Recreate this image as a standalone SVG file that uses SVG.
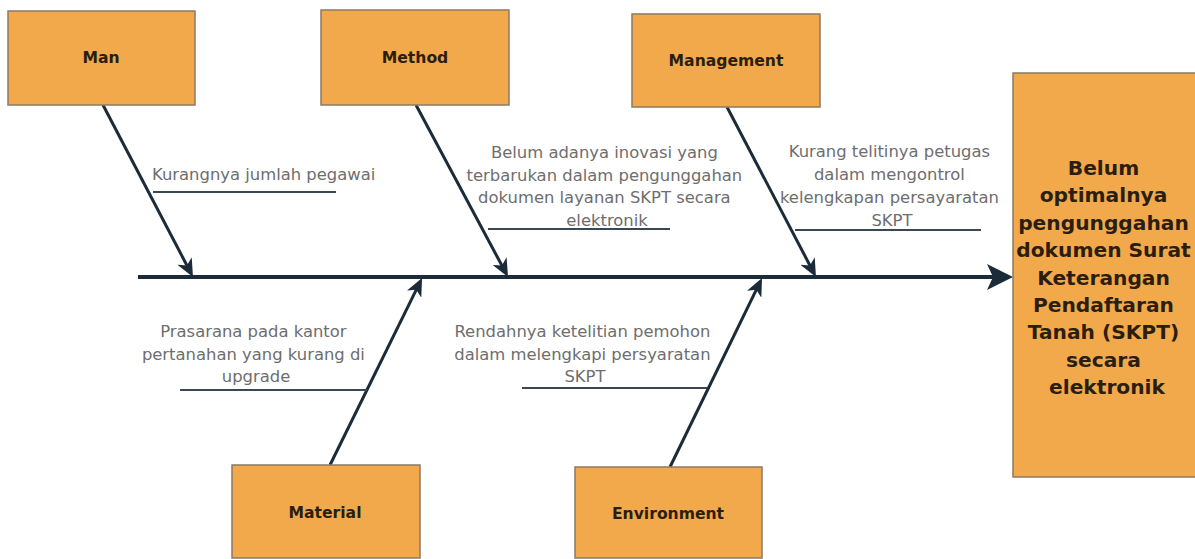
<svg xmlns="http://www.w3.org/2000/svg" width="1195" height="559" viewBox="0 0 1195 559">
  <style>
    .box { fill: #F2A94B; stroke: #8C7A66; stroke-width: 1.5; }
    .lbl { font-family: "DejaVu Sans", sans-serif; font-weight: bold; font-size: 15.6px; fill: #2B1E0F; text-anchor: middle; }
    .eff { font-family: "DejaVu Sans", sans-serif; font-weight: bold; font-size: 20.2px; fill: #2B1E0F; text-anchor: middle; }
    .cause { font-family: "DejaVu Sans", sans-serif; font-size: 16.4px; fill: #6E6E6E; text-anchor: middle; }
    .bone { stroke: #1C2B3A; stroke-width: 3; fill: none; }
    .spine { stroke: #1C2B3A; stroke-width: 4; fill: none; }
    .sub { stroke: #3A4856; stroke-width: 2; fill: none; }
  </style>
  <defs>
    <marker id="ah" markerUnits="userSpaceOnUse" markerWidth="18" markerHeight="16" refX="12" refY="8" orient="auto">
      <path d="M0,0 L18,8 L0,16 L5,8 Z" fill="#1C2B3A"/>
    </marker>
    <marker id="ahBig" markerUnits="userSpaceOnUse" markerWidth="26" markerHeight="26" refX="20" refY="13" orient="auto">
      <path d="M0,0 L26,13 L0,26 L6,13 Z" fill="#1C2B3A"/>
    </marker>
  </defs>

  <rect width="1195" height="559" fill="#FFFFFF"/>

  <g id="connectors">
    <line class="spine" x1="138" y1="277" x2="1007" y2="277" marker-end="url(#ahBig)"/>
    <line class="bone" x1="103" y1="105" x2="190.2" y2="271.7" marker-end="url(#ah)"/>
    <line class="bone" x1="416" y1="105" x2="505.2" y2="271.7" marker-end="url(#ah)"/>
    <line class="bone" x1="727" y1="107" x2="813.2" y2="271.7" marker-end="url(#ah)"/>
    <line class="bone" x1="330" y1="465" x2="419.4" y2="283.4" marker-end="url(#ah)"/>
    <line class="bone" x1="670" y1="467" x2="759.4" y2="283.4" marker-end="url(#ah)"/>
    <line class="sub" x1="153" y1="192" x2="336" y2="192"/>
    <line class="sub" x1="488" y1="229" x2="670" y2="229"/>
    <line class="sub" x1="795" y1="230" x2="981" y2="230"/>
    <line class="sub" x1="180" y1="390" x2="367" y2="390"/>
    <line class="sub" x1="522" y1="388" x2="707" y2="388"/>
  </g>

  <g id="node-man">
    <rect class="box" x="8" y="11" width="187" height="94"/>
    <text class="lbl" x="101" y="63">Man</text>
  </g>
  <g id="node-method">
    <rect class="box" x="321" y="10" width="188" height="95"/>
    <text class="lbl" x="415" y="63">Method</text>
  </g>
  <g id="node-management">
    <rect class="box" x="632" y="14" width="188" height="93"/>
    <text class="lbl" x="726" y="66">Management</text>
  </g>
  <g id="node-material">
    <rect class="box" x="232" y="465" width="188" height="93"/>
    <text class="lbl" x="325" y="518">Material</text>
  </g>
  <g id="node-environment">
    <rect class="box" x="575" y="467" width="187" height="91"/>
    <text class="lbl" x="668" y="519">Environment</text>
  </g>
  <g id="node-effect">
    <rect class="box" x="1013" y="73" width="190" height="404"/>
    <text class="eff" x="1107">
      <tspan x="1107" y="175">Belum</tspan>
      <tspan x="1107" y="202.4">optimalnya</tspan>
      <tspan x="1107" y="229.8">pengunggahan</tspan>
      <tspan x="1107" y="257.2">dokumen Surat</tspan>
      <tspan x="1107" y="284.6">Keterangan</tspan>
      <tspan x="1107" y="312">Pendaftaran</tspan>
      <tspan x="1107" y="339.4">Tanah (SKPT)</tspan>
      <tspan x="1107" y="366.8">secara</tspan>
      <tspan x="1107" y="394.2">elektronik</tspan>
    </text>
  </g>

  <g id="cause-man">
    <text class="cause" x="152" y="180" style="text-anchor:start">Kurangnya jumlah pegawai</text>
  </g>
  <g id="cause-method">
    <text class="cause">
      <tspan x="607" y="158">Belum adanya inovasi yang</tspan>
      <tspan x="607" y="180.5">terbarukan dalam pengunggahan</tspan>
      <tspan x="607" y="203">dokumen layanan SKPT secara</tspan>
      <tspan x="607" y="225.5">elektronik</tspan>
    </text>
  </g>
  <g id="cause-management">
    <text class="cause">
      <tspan x="892" y="157">Kurang telitinya petugas</tspan>
      <tspan x="892" y="180">dalam mengontrol</tspan>
      <tspan x="892" y="203">kelengkapan persayaratan</tspan>
      <tspan x="892" y="225.5">SKPT</tspan>
    </text>
  </g>
  <g id="cause-material">
    <text class="cause">
      <tspan x="256" y="337">Prasarana pada kantor</tspan>
      <tspan x="256" y="359.5">pertanahan yang kurang di</tspan>
      <tspan x="256" y="382">upgrade</tspan>
    </text>
  </g>
  <g id="cause-environment">
    <text class="cause">
      <tspan x="585" y="337">Rendahnya ketelitian pemohon</tspan>
      <tspan x="585" y="359.5">dalam melengkapi persyaratan</tspan>
      <tspan x="585" y="382">SKPT</tspan>
    </text>
  </g>
</svg>
